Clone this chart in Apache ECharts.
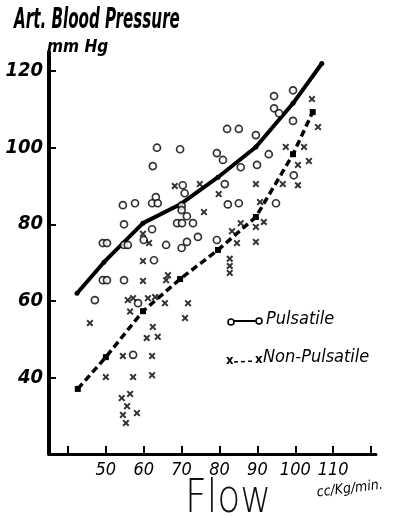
<!DOCTYPE html>
<html>
<head>
<meta charset="utf-8">
<title>Flow vs Art. Blood Pressure</title>
<script src="https://cdn.jsdelivr.net/npm/echarts@6/dist/echarts.min.js"></script>
<style>
  html, body { margin: 0; padding: 0; background: #fff; }
  #chart { width: 398px; height: 516px; }
</style>
</head>
<body>
<div id="chart"></div>
<script>
// flow (cc/Kg/min) , pressure (mm Hg)
var pulsatilePoints = [
  [63.5, 100], [69.6, 99.6], [62.4, 95.2], [70.3, 90.2], [70.8, 88.1], [63.2, 87.1],
  [54.5, 85], [57.7, 85.5], [62.2, 85.5], [63.7, 85.5], [70, 84.8], [70, 83.7],
  [71.4, 82.1], [54.8, 80], [68.8, 80.3], [70.1, 80.3], [62.2, 78.7], [60, 75.9],
  [49.2, 75.1], [50.3, 75.1], [54.8, 74.6], [55.8, 74.6], [65.9, 74.6], [70, 73.8],
  [71.4, 75.4], [74.3, 76.7], [62.7, 70.6], [49.2, 65.4], [50.3, 65.4], [54.8, 65.4],
  [47.1, 60.2], [58.5, 59.4], [57.2, 45.9], [94.4, 113.5], [99.4, 115], [94.4, 110.3],
  [95.7, 109], [99.4, 107], [82, 104.9], [85.1, 104.9], [89.6, 103.3], [79.3, 98.6],
  [80.9, 96.8], [93, 98.3], [85.6, 94.9], [89.9, 95.5], [99.6, 92.8], [81.4, 90.5],
  [82.2, 85.2], [85.1, 85.5], [94.9, 85.5], [79.3, 75.9], [73, 80.3]
];
var nonPulsatilePoints = [
  [68.2, 90], [59.8, 77.5], [61.4, 75.1], [59.8, 70.4], [59.8, 65.2], [65.9, 65.4],
  [66.4, 66.7], [55.8, 60.2], [57.2, 60.7], [61.1, 60.7], [63, 61], [65.6, 59.4],
  [71.7, 59.4], [70.9, 55.5], [45.8, 54.2], [56.4, 57.2], [62.4, 53.2], [60.8, 50.3],
  [63.7, 50.6], [54.5, 45.6], [62.2, 45.6], [50, 40.1], [57.2, 40.1], [62.2, 40.6],
  [54.2, 34.6], [56.4, 35.7], [55.6, 32.5], [54.5, 30.2], [58.2, 30.7], [55.3, 28.1],
  [104.4, 112.7], [106, 105.4], [97.5, 100.2], [102.3, 100.2], [100.7, 95.5], [103.6, 96.5],
  [96.7, 90.5], [100.7, 90.2], [89.6, 90.5], [74.8, 90.5], [79.8, 87.9], [90.7, 85.8],
  [75.9, 83.2], [85.6, 80.3], [83.3, 78.2], [84.6, 75.1], [89.6, 79.3], [91.7, 80.6],
  [89.6, 75.4], [82.7, 71], [82.7, 69.1], [82.7, 67.3]
];
// hand drawn trend lines
var pulsatileLine = [
  [42.4, 62], [49.5, 70.1], [59.8, 80.3], [69.8, 85.3], [79.6, 92.3], [89.6, 100.2], [99.4, 111.6], [107, 122]
];
var nonPulsatileLine = [
  [42.6, 37], [50, 45.3], [59.8, 57.3], [69.6, 65.7], [79.6, 73.3], [89.6, 81.9], [99.4, 98.3], [104.6, 109.3]
];
var xTicks = [40, 50, 60, 70, 80, 90, 100, 110, 120];
var xLabels = [50, 60, 70, 80, 90, 100, 110];
var yTicks = [40, 60, 80, 100, 120];

var hand = '"Liberation Sans Narrow", "DejaVu Sans Condensed", sans-serif';
var crossIcon = 'path://M0,2L2,0L5,3L8,0L10,2L7,5L10,8L8,10L5,7L2,10L0,8L3,5Z';

var chart = echarts.init(document.getElementById('chart'));
chart.setOption({
  animation: false,
  backgroundColor: '#fff',
  grid: { left: 49, right: 22, top: 52, bottom: 62, outerBoundsMode: 'none', containLabel: false },
  xAxis: {
    type: 'value',
    min: 35,
    max: 121.3,
    splitLine: { show: false },
    axisLine: { lineStyle: { color: '#000', width: 3 } },
    axisTick: {
      inside: true, length: 8, customValues: xTicks,
      lineStyle: { color: '#000', width: 2 }
    },
    axisLabel: {
      customValues: xLabels, margin: 7,
      fontFamily: hand, fontStyle: 'italic', fontSize: 18, color: '#000'
    }
  },
  yAxis: {
    type: 'value',
    min: 20,
    max: 125,
    splitLine: { show: false },
    axisLine: { lineStyle: { color: '#000', width: 4 } },
    axisTick: {
      inside: true, length: 7, customValues: yTicks,
      lineStyle: { color: '#000', width: 2 }
    },
    axisLabel: {
      customValues: yTicks, margin: 6,
      fontFamily: hand, fontStyle: 'italic', fontWeight: 'bold', fontSize: 20, color: '#000'
    }
  },
  series: [
    {
      name: 'Pulsatile',
      type: 'scatter',
      data: pulsatilePoints,
      symbol: 'circle',
      symbolSize: 7,
      itemStyle: { color: '#fff', borderColor: '#000', borderWidth: 1.7 },
      z: 3
    },
    {
      name: 'Non-Pulsatile',
      type: 'scatter',
      data: nonPulsatilePoints,
      symbol: crossIcon,
      symbolSize: 7,
      itemStyle: { color: '#000' },
      z: 3
    },
    {
      name: 'Pulsatile line',
      type: 'line',
      data: pulsatileLine,
      symbol: 'circle',
      symbolSize: 5,
      showSymbol: true,
      itemStyle: { color: '#000' },
      lineStyle: { color: '#000', width: 4 },
      z: 2
    },
    {
      name: 'Non-Pulsatile line',
      type: 'line',
      data: nonPulsatileLine,
      symbol: 'rect',
      symbolSize: 6,
      showSymbol: true,
      itemStyle: { color: '#000' },
      lineStyle: { color: '#000', width: 3.5, type: [7, 4] },
      z: 2
    }
  ],
  graphic: [
    // y axis title (squeezed to look like the hand lettering)
    { type: 'text', left: 14, top: 6, scaleX: 0.58, originX: 0, style: {
      text: 'Art. Blood Pressure', fontFamily: hand, fontStyle: 'italic', fontWeight: 'bold', fontSize: 29, fill: '#000' } },
    { type: 'text', left: 47, top: 38, scaleX: 0.95, style: {
      text: 'mm Hg', fontFamily: hand, fontStyle: 'italic', fontWeight: 'bold', fontSize: 18, fill: '#000' } },
    // x axis title
    { type: 'text', left: 185, top: 477, scaleX: 0.82, originX: 0, style: {
      text: 'Flow', fontFamily: '"DejaVu Sans", sans-serif', fontWeight: 'lighter', fontSize: 46, fill: '#111' } },
    // unit of flow
    { type: 'text', left: 316, top: 478, rotation: 0.12, style: {
      text: 'cc/Kg/min.', fontFamily: hand, fontStyle: 'italic', fontSize: 14, fill: '#000' } },
    // legend
    { type: 'line', shape: { x1: 233, y1: 321, x2: 256, y2: 321 }, style: { stroke: '#000', lineWidth: 2 } },
    { type: 'circle', shape: { cx: 231, cy: 322, r: 3 }, style: { fill: '#fff', stroke: '#000', lineWidth: 1.6 } },
    { type: 'circle', shape: { cx: 259, cy: 321, r: 3 }, style: { fill: '#fff', stroke: '#000', lineWidth: 1.6 } },
    { type: 'text', left: 266, top: 310, style: {
      text: 'Pulsatile', fontFamily: hand, fontStyle: 'italic', fontSize: 18, fill: '#000' } },
    { type: 'line', shape: { x1: 234, y1: 362, x2: 255, y2: 361 }, style: { stroke: '#000', lineWidth: 1.5, lineDash: [4, 3] } },
    { type: 'text', left: 226, top: 354, style: {
      text: 'x', fontFamily: hand, fontWeight: 'bold', fontSize: 13, fill: '#000' } },
    { type: 'text', left: 255, top: 353, style: {
      text: 'x', fontFamily: hand, fontWeight: 'bold', fontSize: 13, fill: '#000' } },
    { type: 'text', left: 263, top: 348, style: {
      text: 'Non-Pulsatile', fontFamily: hand, fontStyle: 'italic', fontSize: 18, fill: '#000' } }
  ]
});
</script>
</body>
</html>
